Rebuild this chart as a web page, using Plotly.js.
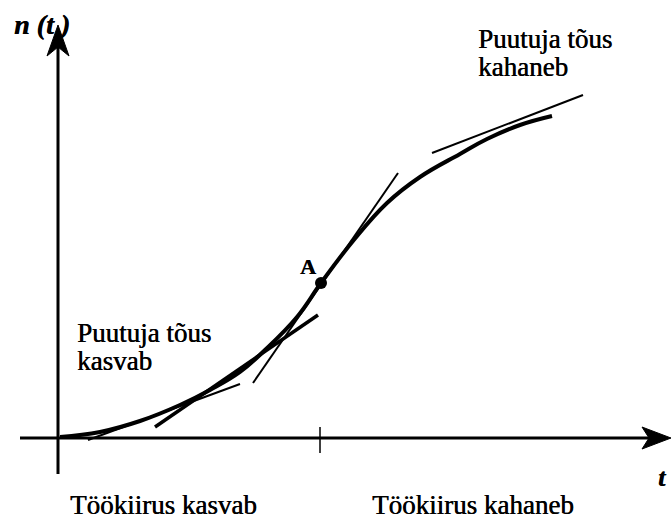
<!DOCTYPE html>
<html>
<head>
<meta charset="utf-8">
<script src="https://cdn.plot.ly/plotly-3.0.1.min.js"></script>
<style>html,body{margin:0;padding:0;background:#fff;}#chart{width:672px;height:523px;}</style>
</head>
<body>
<div id="chart"></div>
<script>
// S-shaped curve n(t) (t to the right, n upward; origin at the axes' crossing)
const curveT = [2, 42, 82, 122, 152, 182, 207, 239, 263, 295, 329, 362, 402, 429, 462, 494];
const curveN = [1, 6, 17, 33, 48, 66, 88, 121, 155, 197, 235, 261, 284, 299, 313, 322];

// inflection point A
const pointAT = [263];
const pointAN = [155];

// tangent segments
const tangent1T = [30, 182];  const tangent1N = [-2, 54];
const tangent2T = [97, 260];  const tangent2N = [11, 123];
const tangent3T = [195, 340]; const tangent3N = [55, 265];
const tangent4T = [374, 525]; const tangent4N = [285, 343];

// axes extents
const xAxisT = [-38, 613];
const yAxisN = [-36, 413];
const midTickT = [262, 262];
const midTickN = [11, -15];

// labels
const labelUpper = ["Puutuja tõus", "kahaneb"];
const labelLower = ["Puutuja tõus", "kasvab"];
const labelLeftBottom = "Töökiirus kasvab";
const labelRightBottom = "Töökiirus kahaneb";
const labelA = "A";
const labelY = "n (t )";
const labelX = "t";

const serif = "'Liberation Serif', 'Times New Roman', 'DejaVu Serif', serif";

function seg(x, y, w) {
  return {x: x, y: y, type: "scatter", mode: "lines", hoverinfo: "skip",
          line: {color: "#000", width: w}};
}

const traces = [
  seg(midTickT, midTickN, 1.5),
  seg(tangent1T, tangent1N, 2),
  seg(tangent2T, tangent2N, 3.5),
  seg(tangent3T, tangent3N, 2),
  seg(tangent4T, tangent4N, 2),
  {x: curveT, y: curveN, type: "scatter", mode: "lines", hoverinfo: "skip",
   line: {color: "#000", width: 4, shape: "spline", smoothing: 1.2}},
  {x: pointAT, y: pointAN, type: "scatter", mode: "markers", hoverinfo: "skip",
   marker: {color: "#000", size: 12}}
];

const heavy = "0.5px 0 0 #000";
function txt(text, x, y, size, extra) {
  return Object.assign({text: text, x: x, y: y, xref: "x", yref: "y", showarrow: false,
    xanchor: "left", yanchor: "middle",
    font: {family: serif, size: size, color: "#000", shadow: heavy}}, extra || {});
}

const annotations = [
  txt(labelUpper[0], 418, 399, 27),
  txt(labelUpper[1], 418, 371, 27),
  txt(labelLower[0], 17, 105, 27),
  txt(labelLower[1], 17, 77, 27),
  txt(labelLeftBottom, 10, -67, 27),
  txt(labelRightBottom, 312, -67, 27),
  txt("<b>" + labelA + "</b>", 250, 172, 22, {xanchor: "center"}),
  txt("<b><i>" + labelY + "</i></b>", -46, 414, 28),
  txt("<b><i>" + labelX + "</i></b>", 604, -39, 26, {xanchor: "center"})
];

// axis lines and arrowheads (head sizes in axis units)
const headLen = 29, headHalf = 11, headNotch = 22;
const xTip = xAxisT[1], yTip = yAxisN[1];
const shapes = [
  {type: "line", xref: "x", yref: "y", x0: xAxisT[0], y0: 0, x1: xTip - headNotch, y1: 0,
   line: {color: "#000", width: 3}},
  {type: "line", xref: "x", yref: "y", x0: 0, y0: yAxisN[0], x1: 0, y1: yTip - headNotch,
   line: {color: "#000", width: 3}},
  {type: "path", xref: "x", yref: "y", fillcolor: "#000", line: {color: "#000", width: 1},
   path: "M" + xTip + ",0 L" + (xTip - headLen) + "," + headHalf + " L" + (xTip - headNotch) + ",0 L" +
         (xTip - headLen) + "," + (-headHalf) + " Z"},
  {type: "path", xref: "x", yref: "y", fillcolor: "#000", line: {color: "#000", width: 1},
   path: "M0," + yTip + " L" + headHalf + "," + (yTip - headLen - 2) + " L0," + (yTip - headNotch) + " L" +
         (-headHalf) + "," + (yTip - headLen - 2) + " Z"}
];

const layout = {
  width: 672, height: 523,
  margin: {l: 0, r: 0, t: 0, b: 0},
  paper_bgcolor: "#fff", plot_bgcolor: "#fff",
  showlegend: false,
  font: {family: serif},
  xaxis: {range: [-58, 614], visible: false, fixedrange: true},
  yaxis: {range: [-85, 438], visible: false, fixedrange: true},
  shapes: shapes,
  annotations: annotations
};

Plotly.newPlot("chart", traces, layout, {staticPlot: true, displayModeBar: false});
</script>
</body>
</html>
